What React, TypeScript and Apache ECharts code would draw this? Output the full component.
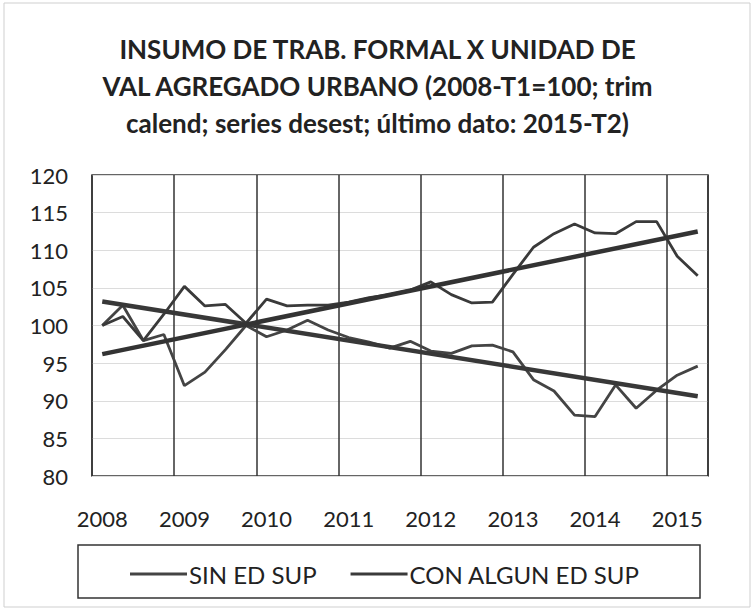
import React, { useEffect, useRef } from "react";
import * as echarts from "echarts";

const QUARTERS = [
  "2008-T1", "2008-T2", "2008-T3", "2008-T4",
  "2009-T1", "2009-T2", "2009-T3", "2009-T4",
  "2010-T1", "2010-T2", "2010-T3", "2010-T4",
  "2011-T1", "2011-T2", "2011-T3", "2011-T4",
  "2012-T1", "2012-T2", "2012-T3", "2012-T4",
  "2013-T1", "2013-T2", "2013-T3", "2013-T4",
  "2014-T1", "2014-T2", "2014-T3", "2014-T4",
  "2015-T1", "2015-T2",
];

const SIN_ED_SUP = [
  100, 102.7, 98.0, 98.8, 92.0, 93.8, 96.8, 100.0,
  98.5, 99.4, 100.7, 99.4, 98.4, 97.8, 97.0, 97.9,
  96.6, 96.3, 97.3, 97.4, 96.5, 92.8, 91.3, 88.1,
  87.9, 92.1, 89.0, 91.4, 93.4, 94.6,
];

const CON_ALGUN_ED_SUP = [
  100, 101.2, 98.0, 101.5, 105.2, 102.6, 102.8, 100.3,
  103.5, 102.6, 102.7, 102.7, 103.1, 103.7, 104.1, 104.7,
  105.8, 104.1, 103.0, 103.1, 106.8, 110.4, 112.2, 113.5,
  112.3, 112.2, 113.8, 113.8, 109.2, 106.6,
];

// Trend line end values (first and last quarter)
const SIN_TREND_ENDS = [103.2, 90.6];
const CON_TREND_ENDS = [96.2, 112.5];

const Y_MIN = 80;
const Y_MAX = 120;
const Y_STEP = 5;

const TITLE =
  "INSUMO DE TRAB. FORMAL X UNIDAD DE\nVAL AGREGADO URBANO (2008-T1=100; trim\ncalend; series desest; último dato: 2015-T2)";

const FONT = "Lato, 'Open Sans', sans-serif";

function trendData(ends: number[]) {
  return QUARTERS.map((_, i) =>
    i === 0 ? ends[0] : i === QUARTERS.length - 1 ? ends[1] : null
  );
}

export default function App() {
  const ref = useRef<HTMLDivElement>(null);

  useEffect(() => {
    if (!ref.current) return;
    const chart = echarts.init(ref.current, undefined, { renderer: "svg" });
    chart.setOption({
      animation: false,
      backgroundColor: "#ffffff",
      title: {
        text: TITLE,
        left: "center",
        top: 25,
        textStyle: {
          fontFamily: FONT,
          fontSize: 26,
          fontWeight: "bold",
          color: "#222",
          lineHeight: 37,
        },
      },
      graphic: [
        {
          type: "rect",
          shape: { x: 4, y: 3, width: 746, height: 604 },
          style: { fill: "none", stroke: "#cfcfcf", lineWidth: 1 },
          silent: true,
        },
        {
          type: "rect",
          shape: { x: 78, y: 545, width: 622, height: 53 },
          style: { fill: "none", stroke: "#333", lineWidth: 1.5 },
          silent: true,
        },
      ],
      legend: {
        data: ["SIN ED SUP", "CON ALGUN ED SUP"],
        left: 125,
        top: 557,
        icon: "rect",
        itemWidth: 57,
        itemHeight: 3,
        itemGap: 34,
        textStyle: {
          fontFamily: FONT,
          fontSize: 24,
          color: "#222",
          padding: [0, 0, 0, -3],
        },
      },
      grid: {
        left: 92,
        right: 47,
        top: 175,
        bottom: 135,
        show: true,
        borderColor: "#333",
        borderWidth: 1.5,
        containLabel: false,
      },
      xAxis: {
        type: "category",
        data: QUARTERS,
        boundaryGap: true,
        axisLine: { show: false },
        axisTick: { show: false },
        axisLabel: {
          interval: 3,
          margin: 31,
          fontFamily: FONT,
          fontSize: 22,
          color: "#222",
          formatter: (v: string) => v.slice(0, 4),
        },
        splitLine: {
          show: true,
          interval: 3,
          lineStyle: { color: "#333", width: 1.5 },
        },
      },
      yAxis: {
        type: "value",
        min: Y_MIN,
        max: Y_MAX,
        interval: Y_STEP,
        axisLine: { show: false },
        axisTick: { show: false },
        axisLabel: {
          margin: 24,
          fontFamily: FONT,
          fontSize: 22,
          color: "#222",
        },
        splitLine: { show: true, lineStyle: { color: "#dcdcdc", width: 1 } },
      },
      series: [
        {
          name: "SIN ED SUP",
          type: "line",
          data: SIN_ED_SUP,
          showSymbol: false,
          symbol: "none",
          color: "#444444",
          lineStyle: { color: "#444444", width: 2.8 },
        },
        {
          name: "CON ALGUN ED SUP",
          type: "line",
          data: CON_ALGUN_ED_SUP,
          showSymbol: false,
          symbol: "none",
          color: "#3a3a3a",
          lineStyle: { color: "#3a3a3a", width: 2.8 },
        },
        {
          name: "Tendencia SIN ED SUP",
          type: "line",
          data: trendData(SIN_TREND_ENDS),
          connectNulls: true,
          showSymbol: false,
          symbol: "none",
          lineStyle: { color: "#383838", width: 4.5 },
        },
        {
          name: "Tendencia CON ALGUN ED SUP",
          type: "line",
          data: trendData(CON_TREND_ENDS),
          connectNulls: true,
          showSymbol: false,
          symbol: "none",
          lineStyle: { color: "#333333", width: 4.5 },
        },
      ],
    });
    return () => chart.dispose();
  }, []);

  return (
    <div
      ref={ref}
      style={{ position: "fixed", left: 0, top: 0, width: 755, height: 611 }}
    />
  );
}
